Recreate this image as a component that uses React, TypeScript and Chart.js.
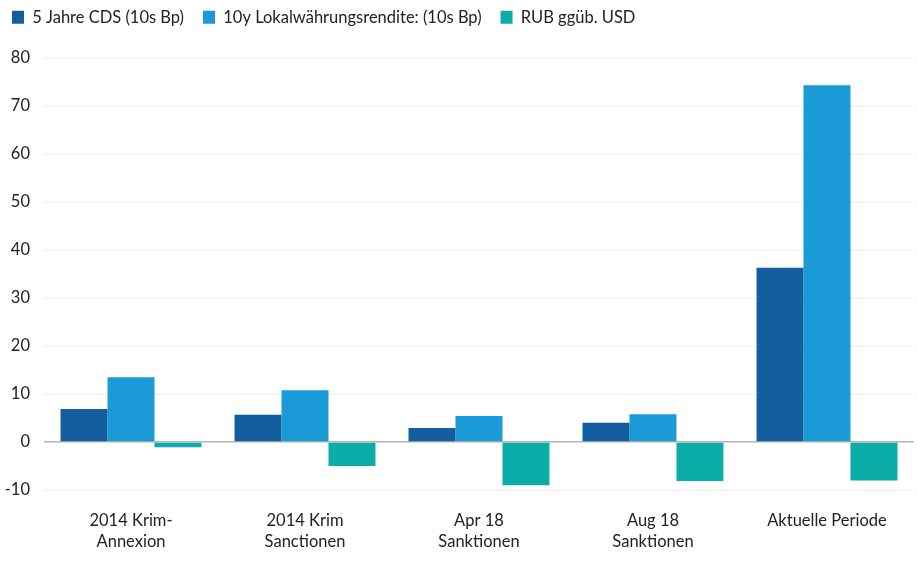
import React, { useRef, useEffect } from "react";
import { Chart, registerables } from "chart.js";

Chart.register(...registerables);

const categories: string[][] = [
  ["2014 Krim-", "Annexion"],
  ["2014 Krim", "Sanctionen"],
  ["Apr 18", "Sanktionen"],
  ["Aug 18", "Sanktionen"],
  ["Aktuelle Periode"],
];

const cdsValues = [6.9, 5.7, 2.9, 4.0, 36.3];
const yieldValues = [13.5, 10.8, 5.4, 5.8, 74.3];
const rubValues = [-1.1, -5.0, -9.0, -8.1, -8.0];

const FONT = "Lato, 'Noto Sans', sans-serif";
const FONT_SIZE = 16.5;

// fixes the legend's height so the plot starts where it should
const legendHeightPlugin = {
  id: "legendHeight",
  beforeInit(chart: any) {
    const legend = chart.legend;
    if (!legend) return;
    const fit = legend.fit.bind(legend);
    legend.fit = function () {
      fit();
      this.height = 68;
    };
  },
};

const App: React.FC = () => {
  const chartRef = useRef<HTMLCanvasElement>(null);
  const chartInstanceRef = useRef<Chart | null>(null);

  useEffect(() => {
    const ctx = chartRef.current?.getContext("2d");
    if (!ctx) return;

    if (chartInstanceRef.current) {
      chartInstanceRef.current.destroy();
    }

    chartInstanceRef.current = new Chart(ctx, {
      type: "bar",
      data: {
        labels: categories,
        datasets: [
          {
            label: "5 Jahre CDS (10s Bp)",
            data: cdsValues,
            backgroundColor: "#135e9e",
          },
          {
            label: "10y Lokalwährungsrendite: (10s Bp)",
            data: yieldValues,
            backgroundColor: "#1a9ad6",
          },
          {
            label: "RUB ggüb. USD",
            data: rubValues,
            backgroundColor: "#0bada8",
          },
        ],
      },
      plugins: [legendHeightPlugin],
      options: {
        responsive: true,
        maintainAspectRatio: false,
        animation: false,
        layout: {
          padding: { left: -7, right: 3, top: -10, bottom: 0 },
        },
        datasets: {
          bar: {
            categoryPercentage: 0.81,
            barPercentage: 1,
          },
        },
        plugins: {
          legend: {
            position: "top",
            align: "start",
            labels: {
              font: { family: FONT, size: FONT_SIZE },
              color: "#222",
              boxWidth: 12,
              boxHeight: 13,
              padding: 19,
            },
          },
          tooltip: { enabled: false },
        },
        scales: {
          x: {
            grid: { display: false, drawTicks: false },
            border: { display: false },
            ticks: {
              font: { family: FONT, size: FONT_SIZE, lineHeight: 1.27 },
              color: "#222",
              padding: 20,
              maxRotation: 0,
            },
            afterFit: (scale) => {
              scale.height = 72;
            },
          },
          y: {
            min: -10,
            max: 80,
            border: { display: false },
            grid: {
              drawTicks: false,
              color: (c) => (c.tick && c.tick.value === 0 ? "#b4b4b4" : "#ececec"),
              lineWidth: (c) => (c.tick && c.tick.value === 0 ? 1.5 : 1),
            },
            ticks: {
              stepSize: 10,
              font: { family: FONT, size: FONT_SIZE },
              color: "#222",
              padding: 14,
            },
            afterFit: (scale) => {
              scale.width = 51;
            },
          },
        },
      },
    });

    return () => {
      if (chartInstanceRef.current) {
        chartInstanceRef.current.destroy();
        chartInstanceRef.current = null;
      }
    };
  }, []);

  return (
    <div
      style={{
        position: "absolute",
        top: 0,
        left: 0,
        width: 917,
        height: 562,
        background: "#fff",
      }}
    >
      <canvas ref={chartRef} />
    </div>
  );
};

export default App;
